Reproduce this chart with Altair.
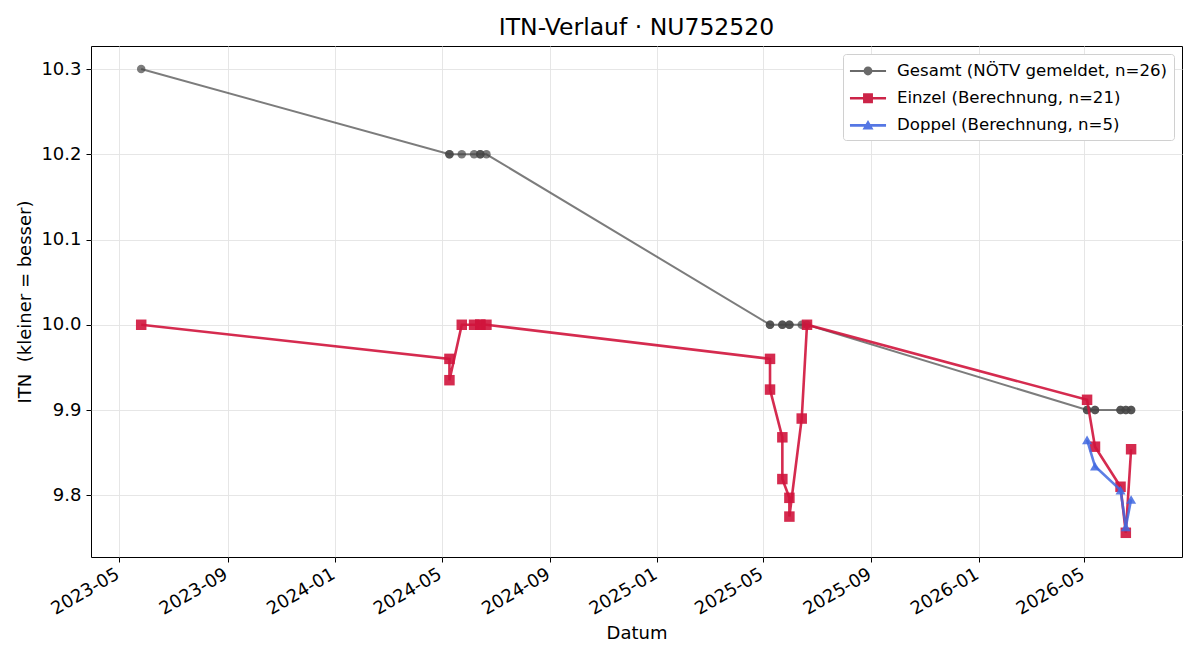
import altair as alt
import pandas as pd

# ITN history for player NU752520
gesamt_dates = [
    "2023-05-26",
    "2024-05-10", "2024-05-10", "2024-05-24", "2024-06-07", "2024-06-14", "2024-06-14", "2024-06-21",
    "2025-05-09", "2025-05-09", "2025-05-23", "2025-05-23", "2025-05-31", "2025-05-31", "2025-06-14", "2025-06-20",
    "2026-05-04", "2026-05-04", "2026-05-13", "2026-05-13", "2026-06-11", "2026-06-11",
    "2026-06-17", "2026-06-17", "2026-06-23", "2026-06-23",
]
gesamt_values = [
    10.3,
    10.2, 10.2, 10.2, 10.2, 10.2, 10.2, 10.2,
    10.0, 10.0, 10.0, 10.0, 10.0, 10.0, 10.0, 10.0,
    9.9, 9.9, 9.9, 9.9, 9.9, 9.9, 9.9, 9.9, 9.9, 9.9,
]

einzel_dates = [
    "2023-05-26",
    "2024-05-10", "2024-05-10", "2024-05-24", "2024-06-07", "2024-06-14", "2024-06-14", "2024-06-21",
    "2025-05-09", "2025-05-09", "2025-05-23", "2025-05-23", "2025-05-31", "2025-05-31", "2025-06-14", "2025-06-20",
    "2026-05-04", "2026-05-13", "2026-06-11", "2026-06-17", "2026-06-23",
]
einzel_values = [
    10.0,
    9.96, 9.935, 10.0, 10.0, 10.0, 10.0, 10.0,
    9.96, 9.924, 9.868, 9.819, 9.797, 9.775, 9.89, 10.0,
    9.912, 9.857, 9.81, 9.756, 9.854,
]

doppel_dates = ["2026-05-04", "2026-05-13", "2026-06-11", "2026-06-17", "2026-06-23"]
doppel_values = [9.865, 9.834, 9.806, 9.763, 9.795]

series_names = [
    "Gesamt (NÖTV gemeldet, n=26)",
    "Einzel (Berechnung, n=21)",
    "Doppel (Berechnung, n=5)",
]
series_colors = ["#444444", "#d0143c", "#4169e1"]
legend_colors = ["#6a6a6a", "#cc2448", "#5577e4"]

tick_months = [
    (2023, 5), (2023, 9), (2024, 1), (2024, 5), (2024, 9),
    (2025, 1), (2025, 5), (2025, 9), (2026, 1), (2026, 5),
]
y_ticks = [9.8, 9.9, 10.0, 10.1, 10.2, 10.3]


def frame(dates, values, name):
    return pd.DataFrame({
        "Datum": dates,
        "ITN": values,
        "Serie": name,
        "idx": list(range(len(dates))),
    })


df_g = frame(gesamt_dates, gesamt_values, series_names[0])
df_e = frame(einzel_dates, einzel_values, series_names[1])
df_d = frame(doppel_dates, doppel_values, series_names[2])
df_all = pd.concat([df_g, df_e, df_d], ignore_index=True)

x_enc = alt.X(
    "Datum:T",
    title="Datum",
    scale=alt.Scale(
        type="utc",
        domain=[
            alt.DateTime(year=2023, month=3, date=30, utc=True),
            alt.DateTime(year=2026, month=8, date=19, hours=19, utc=True),
        ],
        nice=False,
    ),
    axis=alt.Axis(
        values=[alt.DateTime(year=y, month=m, date=1, utc=True) for y, m in tick_months],
        labelExpr="utcFormat(datum.value, '%Y-%m')",
        labelAngle=330,
        labelAlign="right",
        labelBaseline="top",
        labelPadding=3,
        labelOffset=-6,
        titlePadding=6,
    ),
)
y_enc = alt.Y(
    "ITN:Q",
    title="ITN \u00a0(kleiner = besser)",
    scale=alt.Scale(domain=[9.7276, 10.327], nice=False, zero=False),
    axis=alt.Axis(values=y_ticks, format=".1f", labelPadding=5, titlePadding=6),
)
order_enc = alt.Order("idx:Q")


def series_layer(df, color, opacity, width, shape, size):
    base = alt.Chart(df)
    line = base.mark_line(color=color, opacity=opacity, strokeWidth=width).encode(
        x=x_enc, y=y_enc, order=order_enc
    )
    pts = base.mark_point(
        shape=shape, filled=True, color=color, opacity=opacity, size=size, strokeWidth=0
    ).encode(x=x_enc, y=y_enc)
    return line + pts


gesamt = series_layer(df_g, series_colors[0], 0.7, 2.0, "circle", 72)
einzel = series_layer(df_e, series_colors[1], 0.9, 2.6, "square", 110)
doppel = series_layer(df_d, series_colors[2], 0.85, 2.6, "triangle-up", 100)

# legend handles: a short line with the series marker in the middle
legend_shapes = [
    "M-1.64,-0.09H1.64V0.09H-1.64Z M0.4,0A0.4,0.4,0,1,1,-0.4,0A0.4,0.4,0,1,1,0.4,0Z",
    "M-1.64,-0.12H1.64V0.12H-1.64Z M-0.45,-0.45H0.45V0.45H-0.45Z",
    "M-1.64,-0.12H1.64V0.12H-1.64Z M0,-0.5L0.5,0.38H-0.5Z",
]

legend_def = alt.Legend(
    title=None,
    orient="top-right",
    offset=8,
    symbolSize=484,
    symbolOffset=8,
    symbolOpacity=1,
    symbolStrokeWidth=0,
    labelFontSize=16.6,
    labelFont="DejaVu Sans",
    labelColor="black",
    labelLimit=600,
    labelOffset=18,
    rowPadding=7.2,
    padding=6,
    strokeColor="#d0d0d0",
    fillColor="white",
    cornerRadius=3,
)

legend_layer = alt.Chart(df_all).mark_point(filled=True, opacity=0, size=10).encode(
    x=x_enc,
    y=y_enc,
    color=alt.Color(
        "Serie:N",
        scale=alt.Scale(domain=series_names, range=legend_colors),
        legend=legend_def,
    ),
    shape=alt.Shape(
        "Serie:N",
        scale=alt.Scale(domain=series_names, range=legend_shapes),
        legend=legend_def,
    ),
)

chart = (
    alt.layer(gesamt, einzel, doppel, legend_layer)
    .properties(
        width=1091,
        height=511,
        background="white",
        autosize=alt.AutoSizeParams(type="none"),
        padding={"left": 91, "top": 46, "right": 18, "bottom": 103},
        title=alt.TitleParams(
            "ITN-Verlauf · NU752520",
            font="DejaVu Sans",
            fontSize=23.5,
            fontWeight="normal",
            color="black",
            anchor="middle",
            offset=7,
        ),
    )
    .configure_view(stroke="black", strokeWidth=1)
    .configure_axis(
        domain=False,
        grid=True,
        gridColor="#e3e3e3",
        gridWidth=0.9,
        tickColor="black",
        tickSize=5,
        tickWidth=1,
        labelFont="DejaVu Sans",
        labelFontSize=18,
        labelColor="black",
        titleFont="DejaVu Sans",
        titleFontSize=18,
        titleFontWeight="normal",
        titleColor="black",
    )
)

chart.save("out.html", embed_options={"renderer": "svg", "actions": False})
